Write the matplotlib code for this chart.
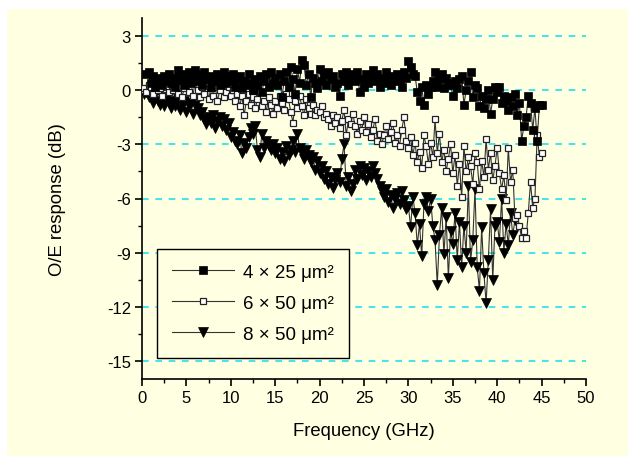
import numpy as np
import matplotlib
matplotlib.use("Agg")
import matplotlib.pyplot as plt
from matplotlib.patches import Rectangle
from matplotlib.ticker import MultipleLocator

plt.rcParams['font.family'] = ['Liberation Sans', 'DejaVu Sans']
plt.rcParams['axes.unicode_minus'] = False

# ---- data ----
labels = ["4 \u00d7 25 \u03bcm\u00b2", "6 \u00d7 50 \u03bcm\u00b2", "8 \u00d7 50 \u03bcm\u00b2"]

f1_start, f1_stop = 0.5, 45.0
s1 = [0.9, 1.0,
      0.4, 0.8, 0.2, 0.6,
      0.7, 0.3, 0.8, 0.5,
      0.9, 0.4, 0.7, 0.2,
      1.1, 0.6, 0.9, 0.3,
      0.7, 1.0, 0.4, 0.8,
      1.1, 0.5, 0.9, 0.3,
      1.0, 0.6, 0.8, 0.2,
      0.7, 0.5, 0.9, 0.3,
      0.6, 1.0, 0.4, 0.8,
      0.5, 0.9, 0.2, 0.6,
      0.8, 0.1, 0.5, 0.3,
      0.9, 0.4, 0.0, 0.6,
      0.3, 0.8, -0.1, 0.5,
      0.9, 0.2, 1.0, 0.4,
      0.7, 0.3, 0.9, -0.4,
      0.5, 1.0, 0.2, 1.3,
      0.6, -0.2, 1.2, 0.4,
      1.7, 1.4, 0.3, 0.9,
      -0.4, 0.7, 0.4, 0.1,
      1.2, 0.5, 0.9, 0.3,
      1.0, 0.6, 0.8, 0.2,
      0.4, -0.3, 0.9, 0.5,
      1.0, 0.3, 0.7, 0.9,
      0.5, 1.0, -0.1, 0.6,
      0.2, 0.9, 0.4, 0.8,
      1.1, 0.5, 0.9, 0.2,
      0.7, 0.4, 1.0, 0.6,
      0.3, 0.8, 0.5, 0.9,
      0.6, 0.2, 1.0, 0.7,
      1.6, 1.3, 0.9, 0.8,
      -0.1, -0.6, 0.2, -0.8,
      0.3, -0.2, 0.2, 0.5,
      1.0, 0.2, 0.6, 0.9,
      0.1, 0.7, 0.4, 0.3,
      -0.3, 0.5, 0.1, 0.6,
      0.8, -0.8, 0.0, 0.5,
      1.0, -0.4, 0.3, 0.1,
      -0.9, -0.3, -1.0, -0.5,
      0.0, -1.3, -0.5, 0.2,
      -0.1, 0.2, -0.7, -0.3,
      -0.6, -1.1, -0.4, -0.9,
      -0.2, -1.4, -0.7, -2.8,
      -2.0, -1.5, -0.3, -0.7,
      -2.2, -1.0, -2.8, -0.8,
      -0.8]

f2_start, f2_stop = 0.0, 45.0
s2 = [0.0, 0.1, -0.1, 0.3,
      0.2, -0.2, 0.4, 0.0,
      0.1, -0.3, 0.3, 0.2,
      -0.1, 0.4, 0.0, 0.3,
      -0.2, 0.2, -0.4, 0.1,
      0.3, -0.1, 0.5, -0.3,
      0.6, 0.0, -0.4, 0.2,
      -0.2, 0.4, -0.5, 0.1,
      -0.3, 0.2, -0.6, 0.0,
      0.3, -0.4, -0.1, 0.2,
      -0.3, 0.0, -0.6, -0.2,
      -0.9, -0.3, -1.4, -0.6,
      -0.2, -0.8, -0.4, -1.0,
      -0.5, -0.1, -0.9, -0.6,
      -1.2, -0.4, -0.8, -1.3,
      -0.6, -1.0, -0.3, -0.7,
      -1.1, -0.2, -0.5, -1.2,
      -1.8, -0.6, -1.0, -0.3,
      -0.9, -1.4, -0.5, -1.0,
      -1.3, -0.8, -1.4, -1.1,
      -1.2, -0.9, -1.5, -1.3,
      -1.6, -2.0, -1.4, -1.8,
      -1.5, -2.1, -1.7, -1.1,
      -2.5, -1.6, -1.9, -1.3,
      -2.0, -2.4, -1.7, -2.2,
      -1.5, -2.3, -1.9, -2.6,
      -2.2, -1.6, -2.8, -2.4,
      -3.0, -2.5, -2.0, -2.7,
      -2.3, -1.8, -2.9, -2.5,
      -3.1, -2.2, -1.5, -2.8,
      -3.2, -2.6, -3.6, -2.9,
      -4.0, -3.4, -4.3, -2.5,
      -3.1, -4.1, -2.9, -3.7,
      -1.6, -3.5, -2.4, -4.0,
      -3.3, -4.5, -3.8, -3.0,
      -4.6, -3.6, -5.3, -4.1,
      -5.9, -3.1, -4.5, -3.7,
      -4.2, -5.2, -3.5, -4.0,
      -5.5, -3.9, -4.8, -2.7,
      -4.4, -3.5, -5.0, -4.2,
      -3.2, -4.6, -5.5, -4.7,
      -6.1, -3.2, -5.1, -4.4,
      -7.1, -6.9, -7.5, -8.2,
      -7.8, -8.2, -6.8, -5.1,
      -6.5, -6.0, -2.5, -3.7,
      -3.5]

f3_start, f3_stop = 0.0, 42.0
s3 = [0.0, -0.2, -0.1, -0.4,
      -0.3, -0.7, -0.2, -0.6,
      -0.8, -0.4, -0.9, -0.5,
      -0.7, -1.0, -0.6, -0.9,
      -0.5, -1.1, -0.8, -0.6,
      -1.2, -0.9, -0.7, -1.3,
      -0.8, -1.0, -1.4, -1.2,
      -1.6, -1.9, -1.5, -1.8,
      -1.4, -2.1, -1.7, -1.5,
      -2.0, -1.6, -2.2, -1.8,
      -2.6, -2.3, -2.8, -3.0,
      -2.5, -3.5, -2.9, -3.2,
      -2.6, -2.1, -2.4, -2.0,
      -3.3, -3.7, -2.4, -3.2,
      -2.8, -3.1, -3.3, -3.0,
      -3.5, -3.2, -3.8, -3.4,
      -3.9, -3.1, -3.6, -3.3,
      -2.8, -3.4, -2.4, -3.2,
      -3.5, -3.8, -3.3, -3.6,
      -4.0, -3.7, -4.4, -3.9,
      -4.6, -4.2, -4.9, -4.5,
      -5.2, -4.8, -5.4, -5.0,
      -4.6, -5.1, -3.8, -3.0,
      -5.3, -4.8, -5.6, -5.2,
      -4.4, -4.9, -4.2, -4.7,
      -4.3, -5.0, -4.5, -4.8,
      -4.2, -4.6, -4.9, -5.3,
      -5.6, -5.9, -5.5, -6.2,
      -5.8, -6.5, -6.0, -5.7,
      -6.3, -5.6, -6.1, -6.6,
      -6.4, -7.6, -5.9, -6.8,
      -8.6, -7.4, -9.2, -6.3,
      -5.9, -6.7, -6.0, -7.5,
      -8.3, -10.8, -8.0, -6.5,
      -9.1, -7.0, -10.4, -7.8,
      -8.5, -6.8, -9.4, -7.3,
      -9.8, -7.5, -9.0, -5.3,
      -9.5, -8.3, -5.5, -9.8,
      -11.1, -7.6, -10.1, -11.8,
      -9.4, -6.6, -10.5, -7.5,
      -7.3, -8.4, -6.0, -9.0,
      -7.4, -8.6, -6.8, -8.0,
      -7.2]

f1 = np.linspace(f1_start, f1_stop, len(s1))
f2 = np.linspace(f2_start, f2_stop, len(s2))
f3 = np.linspace(f3_start, f3_stop, len(s3))

# ---- figure ----
W, H = 633, 460
fig = plt.figure(figsize=(W / 100, H / 100), dpi=100, facecolor='white')
bg = '#FFFFE1'
fig.patches.append(Rectangle((7 / W, 3 / H), 621 / W, 447 / H,
                             transform=fig.transFigure, facecolor=bg,
                             edgecolor='none', zorder=-10))

ax = fig.add_axes([142 / W, 1 - 380 / H, 444 / W, 361 / H])
ax.set_facecolor(bg)
ax.patch.set_alpha(0.0)

lc = '#333333'
ax.plot(f1, s1, '-', color=lc, lw=0.8, marker='s', ms=5.3, mfc='black',
        mec='black', mew=0.5, label=labels[0], zorder=4)
ax.plot(f2, s2, '-', color=lc, lw=0.8, marker='s', ms=4.6, mfc='white',
        mec='#222222', mew=0.9, label=labels[1], zorder=3)
ax.plot(f3, s3, '-', color=lc, lw=0.8, marker='v', ms=7.2, mfc='black',
        mec='black', mew=0.5, label=labels[2], zorder=2)

ax.set_xlim(0, 50)
ax.set_ylim(-16, 4)
ax.xaxis.set_major_locator(MultipleLocator(5))
ax.xaxis.set_minor_locator(MultipleLocator(2.5))
ax.yaxis.set_major_locator(MultipleLocator(3))
ax.yaxis.set_minor_locator(MultipleLocator(1.5))
ax.set_yticks([3, 0, -3, -6, -9, -12, -15])

for y in [3, 0, -3, -6, -9, -12, -15]:
    ax.axhline(y, color='#22E0EE', lw=1.2, ls=(0, (4, 4)), zorder=1)

for s in ['top', 'right']:
    ax.spines[s].set_visible(False)
for s in ['left', 'bottom']:
    ax.spines[s].set_linewidth(1.2)
ax.tick_params(which='major', direction='out', length=5, width=1.2,
               labelsize=12, pad=3)
ax.tick_params(which='minor', direction='out', length=3, width=1.0)

ax.set_xlabel('Frequency (GHz)', fontsize=13.3)
ax.set_ylabel('O/E response (dB)', fontsize=13.3)
ax.xaxis.set_label_coords(0.5, -0.12)
ax.yaxis.set_label_coords(-0.172, 0.5)

leg = ax.legend(loc='lower left', bbox_to_anchor=(0.034, 0.058),
                fontsize=13.5, handlelength=3.3, handletextpad=0.5,
                labelspacing=0.75, borderpad=0.8, borderaxespad=0,
                frameon=True, fancybox=False, facecolor=bg,
                edgecolor='black', framealpha=1.0)
leg.get_frame().set_linewidth(1.0)

fig.savefig('out.png', dpi=100, facecolor='white')
